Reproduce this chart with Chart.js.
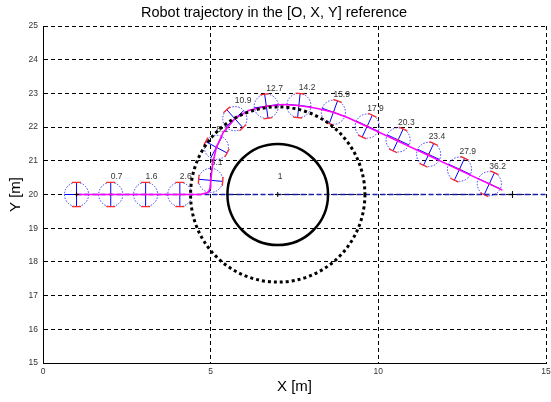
<!DOCTYPE html>
<html>
<head>
<meta charset="utf-8">
<script src="https://cdn.jsdelivr.net/npm/chart.js@4"></script>
<style>
  html, body { margin: 0; padding: 0; background: #fff; }
  canvas { display: block; }
</style>
</head>
<body>
<canvas id="trajectory" width="551" height="402"></canvas>
<script>
// axis ticks
const xTickValues = [0, 5, 10, 15];
const yTickValues = [15, 16, 17, 18, 19, 20, 21, 22, 23, 24, 25];

// reference line (blue dashed) and robot path (magenta)
const refX = [1, 15];
const refY = [20, 20];
const pathX = [1, 4.7, 4.92, 5.0, 5.0, 5.06, 5.17, 5.38, 5.72, 6.15, 6.66, 7.15, 7.63, 8.15, 8.66, 9.1, 13.7];
const pathY = [20, 20, 20.06, 20.2, 20.42, 20.9, 21.4, 21.85, 22.25, 22.5, 22.62, 22.67, 22.64, 22.56, 22.44, 22.28, 20.13];

// robot snapshots
const robotTime = ["", "0.7", "1.6", "2.6", "5.1", "8.1", "10.9", "12.7", "14.2", "15.9", "17.9", "20.3", "23.4", "27.9", "36.2"];
const robotX = [1, 2.02, 3.06, 4.08, 5.0, 5.17, 5.72, 6.66, 7.63, 8.66, 9.67, 10.59, 11.5, 12.42, 13.31];
const robotY = [20, 20, 20, 20, 20.42, 21.4, 22.25, 22.62, 22.64, 22.44, 22.03, 21.62, 21.19, 20.75, 20.32];
const robotHeading = [0, 0, 0, 0, 85, 62, 42, 8, -6, -20, -25, -25, -25, -25, -25];
const robotRadius = 0.36;

// obstacle and its safety zone
const obstacleX = [7];
const obstacleY = [20];
const obstacleR = [1.5];
const safetyR = [2.6];
const obstacleLabel = ["1"];

// start, obstacle centre, target markers
const markerX = [1, 7, 14];
const markerY = [20, 20, 20];

const FONT = '"Liberation Sans", Arial, sans-serif';
Chart.defaults.font.family = FONT;

const labelLift = 0.52;   // label sits this far above a robot (data units)
const wheelHalf = 4.5;    // px

function unitPx(chart) {
    const { x, y } = chart.scales;
    return {
        ux: x.getPixelForValue(1) - x.getPixelForValue(0),
        uy: y.getPixelForValue(0) - y.getPixelForValue(1)
    };
}

function clipArea(chart) {
    const a = chart.chartArea;
    chart.ctx.beginPath();
    chart.ctx.rect(a.left, a.top, a.right - a.left, a.bottom - a.top);
    chart.ctx.clip();
}

// robots are drawn under the path line
const robotPlugin = {
    id: "robots",
    beforeDatasetsDraw(chart) {
        const ctx = chart.ctx;
        const { x, y } = chart.scales;
        const { ux } = unitPx(chart);
        const r = robotRadius * ux;
        ctx.save();
        clipArea(chart);
        robotX.forEach((rx, i) => {
            const cx = x.getPixelForValue(rx);
            const cy = y.getPixelForValue(robotY[i]);
            const a = robotHeading[i] * Math.PI / 180;
            const hx = Math.cos(a), hy = -Math.sin(a);
            const px = -hy, py = hx;

            ctx.lineWidth = 1;
            ctx.strokeStyle = "#3a3aff";
            ctx.setLineDash([1.5, 1.5]);
            ctx.beginPath();
            ctx.arc(cx, cy, r, 0, Math.PI * 2);
            ctx.stroke();
            ctx.setLineDash([]);

            ctx.strokeStyle = "#0000ff";
            ctx.beginPath();
            ctx.moveTo(cx - px * r, cy - py * r);
            ctx.lineTo(cx + px * r, cy + py * r);
            ctx.moveTo(cx - hx * r, cy - hy * r);
            ctx.lineTo(cx + hx * r, cy + hy * r);
            ctx.stroke();

            ctx.strokeStyle = "#ff2a2a";
            ctx.lineWidth = 1.3;
            ctx.beginPath();
            [-1, 1].forEach(s => {
                const wx = cx + s * px * r, wy = cy + s * py * r;
                ctx.moveTo(wx - hx * wheelHalf, wy - hy * wheelHalf);
                ctx.lineTo(wx + hx * wheelHalf, wy + hy * wheelHalf);
            });
            ctx.stroke();

            ctx.fillStyle = "#ff2a2a";
            ctx.fillRect(cx - 1, cy - 1, 2, 2);

            if (robotTime[i]) {
                ctx.font = "8.5px " + FONT;
                ctx.fillStyle = "#333";
                ctx.textAlign = "left";
                ctx.textBaseline = "middle";
                ctx.fillText(robotTime[i], cx, y.getPixelForValue(robotY[i] + labelLift));
            }
        });
        ctx.restore();
    },
    afterDatasetsDraw(chart) {
        const ctx = chart.ctx;
        const { x, y } = chart.scales;
        const { ux, uy } = unitPx(chart);
        ctx.save();
        clipArea(chart);
        obstacleX.forEach((ox, i) => {
            const cx = x.getPixelForValue(ox);
            const cy = y.getPixelForValue(obstacleY[i]);

            ctx.strokeStyle = "#000";
            ctx.lineWidth = 3;
            ctx.setLineDash([3, 3]);
            ctx.beginPath();
            ctx.ellipse(cx, cy, safetyR[i] * ux, safetyR[i] * uy, 0, 0, Math.PI * 2);
            ctx.stroke();

            ctx.setLineDash([]);
            ctx.lineWidth = 2.5;
            ctx.beginPath();
            ctx.ellipse(cx, cy, obstacleR[i] * ux, obstacleR[i] * uy, 0, 0, Math.PI * 2);
            ctx.stroke();

            ctx.font = "8.5px " + FONT;
            ctx.fillStyle = "#333";
            ctx.textAlign = "left";
            ctx.textBaseline = "middle";
            ctx.fillText(obstacleLabel[i], cx, y.getPixelForValue(obstacleY[i] + labelLift));
        });
        ctx.restore();
    }
};

const toPoints = (xs, ys) => xs.map((v, i) => ({ x: v, y: ys[i] }));

const chart = new Chart(document.getElementById("trajectory"), {
    type: "scatter",
    data: {
        datasets: [
            {
                label: "markers",
                data: toPoints(markerX, markerY),
                pointStyle: "cross",
                pointRadius: [2.5, 2.5, 3.5],
                borderColor: "#000",
                borderWidth: 1,
                showLine: false,
                order: 0
            },
            {
                label: "path",
                data: toPoints(pathX, pathY),
                showLine: true,
                borderColor: "#ff00ff",
                borderWidth: 1.6,
                pointRadius: 0,
                tension: 0,
                order: 1
            },
            {
                label: "reference",
                data: toPoints(refX, refY),
                showLine: true,
                borderColor: "#1e1eb0",
                borderWidth: 1.6,
                borderDash: [5, 3],
                pointRadius: 0,
                order: 2
            }
        ]
    },
    options: {
        responsive: false,
        animation: false,
        events: [],
        layout: { padding: { left: 0, right: 3, top: 0, bottom: 0 } },
        plugins: {
            legend: { display: false },
            tooltip: { enabled: false },
            title: {
                display: true,
                text: "Robot trajectory in the [O, X, Y] reference",
                color: "#000",
                font: { size: 14.5, weight: "normal" },
                padding: { top: 4, bottom: 4.6 }
            }
        },
        scales: {
            x: {
                type: "linear",
                min: 0,
                max: 15,
                afterBuildTicks: s => { s.ticks = xTickValues.map(v => ({ value: v })); },
                afterFit: s => { s.height = 39; s.paddingLeft = 0; s.paddingRight = 0; },
                ticks: { color: "#333", font: { size: 8.5 }, padding: 4, maxRotation: 0 },
                grid: { color: "#000", lineWidth: 1, drawTicks: false },
                border: { display: true, color: "#000", width: 1, dash: [4, 3] },
                title: {
                    display: true,
                    text: "X [m]",
                    color: "#000",
                    font: { size: 15 },
                    padding: { top: 0, bottom: 6 }
                }
            },
            y: {
                type: "linear",
                min: 15,
                max: 25,
                afterBuildTicks: s => { s.ticks = yTickValues.map(v => ({ value: v })); },
                afterFit: s => { s.width = 43; s.paddingTop = 0; s.paddingBottom = 0; },
                ticks: { color: "#333", font: { size: 8.5 }, padding: 5 },
                grid: { color: "#000", lineWidth: 1, drawTicks: false },
                border: { display: true, color: "#000", width: 1, dash: [4, 3] },
                title: {
                    display: true,
                    text: "Y [m]",
                    color: "#000",
                    font: { size: 15 },
                    padding: { top: 7, bottom: 0 }
                }
            }
        }
    },
    plugins: [robotPlugin]
});
</script>
</body>
</html>
